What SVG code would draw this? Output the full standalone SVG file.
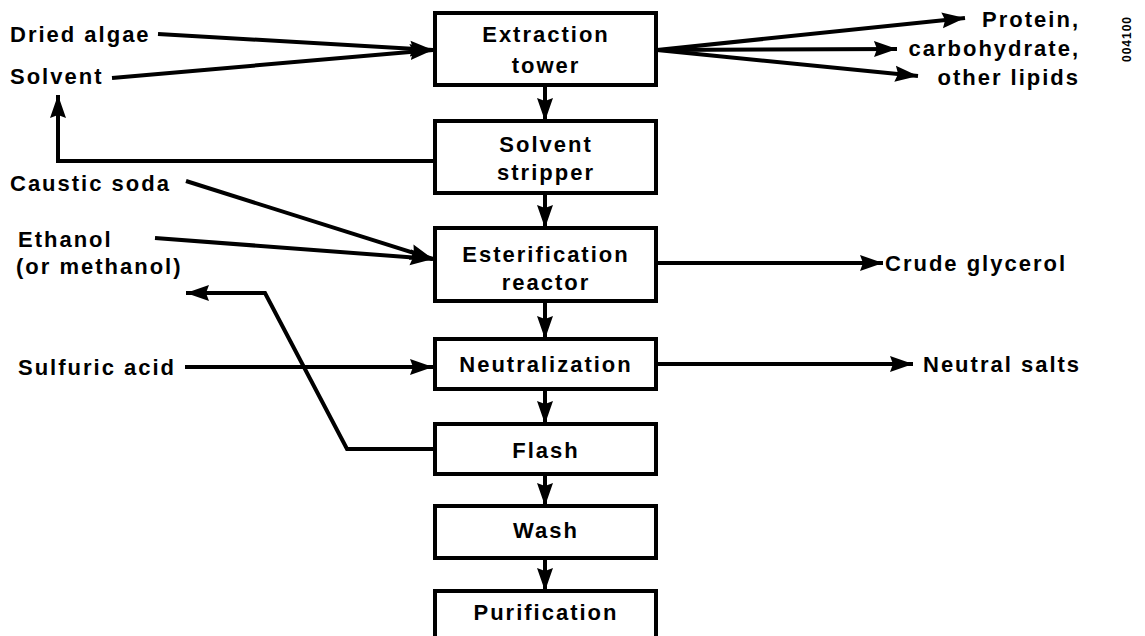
<svg xmlns="http://www.w3.org/2000/svg" width="1145" height="636" viewBox="0 0 1145 636">
<style>
.box{fill:#fff;stroke:#000;stroke-width:4}
.t{font-family:"Liberation Sans",Arial,sans-serif;font-weight:bold;font-size:22px;letter-spacing:2px;fill:#000}
.c{text-anchor:middle}
.e{text-anchor:end}
.ln{fill:none;stroke:#000;stroke-width:4;stroke-linejoin:miter}
</style>
<defs>
<marker id="ah" markerUnits="userSpaceOnUse" markerWidth="26" markerHeight="18" refX="23" refY="9" orient="auto">
<path d="M0,1 L23,9 L0,17 L3,9 z" fill="#000"/>
</marker>
</defs>
<rect width="1145" height="636" fill="#fff"/>
<g id="connectors">
<polyline class="ln" points="158,34 433,50" marker-end="url(#ah)"/>
<polyline class="ln" points="112,78 433,50" marker-end="url(#ah)"/>
<polyline class="ln" points="435,161 58,161 58,95" marker-end="url(#ah)"/>
<polyline class="ln" points="657,50 965,18" marker-end="url(#ah)"/>
<polyline class="ln" points="657,50 897,49" marker-end="url(#ah)"/>
<polyline class="ln" points="657,50 918,76" marker-end="url(#ah)"/>
<polyline class="ln" points="545,85 545,121" marker-end="url(#ah)"/>
<polyline class="ln" points="545,193 545,228" marker-end="url(#ah)"/>
<polyline class="ln" points="545,301 545,339" marker-end="url(#ah)"/>
<polyline class="ln" points="545,389 545,424" marker-end="url(#ah)"/>
<polyline class="ln" points="545,474 545,506" marker-end="url(#ah)"/>
<polyline class="ln" points="545,558 545,591" marker-end="url(#ah)"/>
<polyline class="ln" points="186,181 433,259" marker-end="url(#ah)"/>
<polyline class="ln" points="155,238 433,259" marker-end="url(#ah)"/>
<polyline class="ln" points="657,263 883,263" marker-end="url(#ah)"/>
<polyline class="ln" points="185,367 433,367" marker-end="url(#ah)"/>
<polyline class="ln" points="657,364 913,364" marker-end="url(#ah)"/>
<polyline class="ln" points="435,449 347,449 265,293 186,293" marker-end="url(#ah)"/>
</g>
<g id="extraction-tower"><rect class="box" x="435" y="13" width="221" height="72"/><text class="t c" x="546" y="42">Extraction</text><text class="t c" x="546" y="73">tower</text></g>
<g id="solvent-stripper"><rect class="box" x="435" y="121" width="221" height="72"/><text class="t c" x="546" y="152">Solvent</text><text class="t c" x="546" y="180">stripper</text></g>
<g id="esterification-reactor"><rect class="box" x="435" y="228" width="221" height="73"/><text class="t c" x="546" y="262">Esterification</text><text class="t c" x="546" y="290">reactor</text></g>
<g id="neutralization"><rect class="box" x="435" y="339" width="221" height="50"/><text class="t c" x="546" y="372">Neutralization</text></g>
<g id="flash"><rect class="box" x="435" y="424" width="221" height="50"/><text class="t c" x="546" y="458">Flash</text></g>
<g id="wash"><rect class="box" x="435" y="506" width="221" height="52"/><text class="t c" x="546" y="538">Wash</text></g>
<g id="purification"><rect class="box" x="435" y="591" width="221" height="60"/><text class="t c" x="546" y="620">Purification</text></g>
<g id="dried-algae"><text class="t" x="10" y="42">Dried algae</text></g>
<g id="solvent"><text class="t" x="10" y="84">Solvent</text></g>
<g id="caustic-soda"><text class="t" x="10" y="191">Caustic soda</text></g>
<g id="ethanol"><text class="t" x="18" y="247">Ethanol</text><text class="t" x="16" y="274">(or methanol)</text></g>
<g id="sulfuric-acid"><text class="t" x="18" y="375">Sulfuric acid</text></g>
<g id="products"><text class="t e" x="1080" y="27">Protein,</text><text class="t e" x="1080" y="56">carbohydrate,</text><text class="t e" x="1080" y="85">other lipids</text></g>
<g id="crude-glycerol"><text class="t" x="885" y="271">Crude glycerol</text></g>
<g id="neutral-salts"><text class="t" x="923" y="372">Neutral salts</text></g>
<text class="t" style="font-size:12px;letter-spacing:1px" transform="translate(1131,62) rotate(-90)">004100</text>
</svg>
